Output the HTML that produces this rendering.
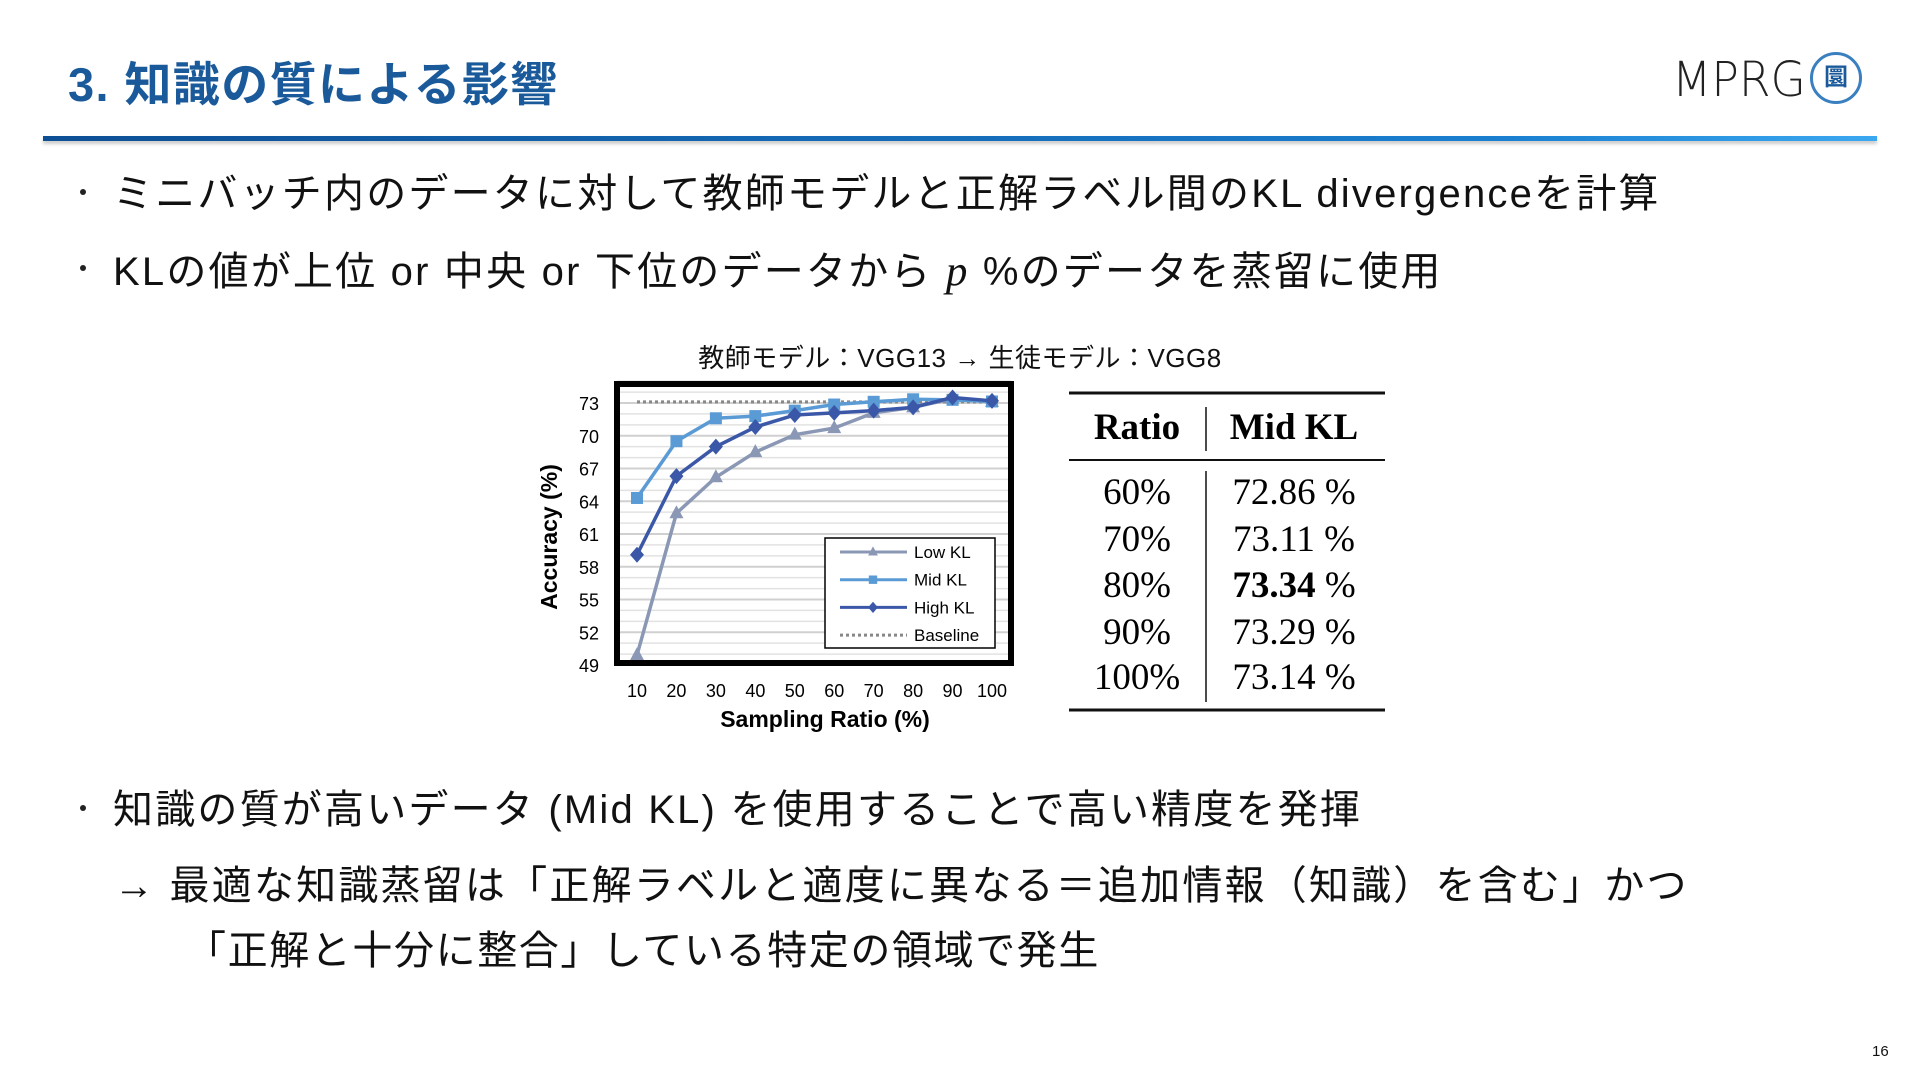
<!DOCTYPE html>
<html><head><meta charset="utf-8"><style>
body{margin:0;width:1920px;height:1080px;background:#fff;position:relative;overflow:hidden;font-family:"Liberation Sans","Noto Sans CJK JP",sans-serif;color:#111}
.abs{position:absolute;white-space:nowrap}
.b{font-size:40px;line-height:1;letter-spacing:2.2px}
.dot{position:absolute;left:-33px;top:15px;width:6px;height:6px;border-radius:50%;background:#222}
</style></head><body>
<div class="abs" style="left:68px;top:46px;font-size:47px;font-weight:bold;color:#1a5a9a;letter-spacing:1.4px">3. 知識の質による影響</div>
<div class="abs" style="left:43px;top:136px;width:1834px;height:5px;background:linear-gradient(90deg,#0d4f95,#1a7fd0 80%,#3aa8f0);box-shadow:0 3px 3px #ccc"></div>
<div class="abs" style="left:1672px;top:52px;font-size:48px;font-weight:100;color:#222;font-family:'DejaVu Sans',sans-serif;transform:scaleX(0.95);transform-origin:left">MPRG</div>
<div class="abs" style="left:1810px;top:52px;width:52px;height:52px;border-radius:50%;border:3px solid #3a7fc0;box-sizing:border-box;text-align:center;line-height:46px;color:#1a5a9a;font-size:24px;font-weight:bold">圜</div>

<div class="abs b" style="left:113px;top:174px"><span class="dot"></span>ミニバッチ内のデータに対して教師モデルと正解ラベル間のKL divergenceを計算</div>
<div class="abs b" style="left:113px;top:250px"><span class="dot"></span>KLの値が上位 or 中央 or 下位のデータから <i style="font-family:'Liberation Serif',serif;font-size:43px">p</i> %のデータを蒸留に使用</div>

<div class="abs" style="left:960px;top:338px;transform:translateX(-50%);font-size:26px;letter-spacing:0.5px">教師モデル：VGG13 → 生徒モデル：VGG8</div>

<svg class="abs" style="left:0;top:0" width="1920" height="1080">
<g id="grid"></g><g id="marks"></g><g id="axes"></g>
</svg>

<svg class="abs" style="left:0;top:0" width="1920" height="1080" font-family="Liberation Serif,serif" font-size="37">
<line x1="1069" y1="393" x2="1385" y2="393" stroke="#111" stroke-width="3"/>
<line x1="1069" y1="460" x2="1385" y2="460" stroke="#111" stroke-width="2"/>
<line x1="1069" y1="710" x2="1385" y2="710" stroke="#111" stroke-width="3"/>
<line x1="1206" y1="407" x2="1206" y2="451" stroke="#111" stroke-width="1.5"/>
<line x1="1206" y1="471" x2="1206" y2="702" stroke="#111" stroke-width="1.5"/>
<text x="1137" y="439" text-anchor="middle" font-weight="bold">Ratio</text>
<text x="1294" y="439" text-anchor="middle" font-weight="bold">Mid KL</text>
<g text-anchor="middle">
<text x="1137" y="504">60%</text><text x="1294" y="504">72.86 %</text>
<text x="1137" y="551">70%</text><text x="1294" y="551">73.11 %</text>
<text x="1137" y="597">80%</text><text x="1294" y="597"><tspan font-weight="bold">73.34</tspan> %</text>
<text x="1137" y="644">90%</text><text x="1294" y="644">73.29 %</text>
<text x="1137" y="689">100%</text><text x="1294" y="689">73.14 %</text>
</g>
</svg>

<div class="abs b" style="left:113px;top:790px"><span class="dot"></span>知識の質が高いデータ (Mid KL) を使用することで高い精度を発揮</div>
<div class="abs b" style="left:114px;top:866px">→ 最適な知識蒸留は「正解ラベルと適度に異なる＝追加情報（知識）を含む」かつ</div>
<div class="abs b" style="left:186px;top:931px;letter-spacing:1.6px">「正解と十分に整合」している特定の領域で発生</div>
<div class="abs" style="left:1872px;top:1043px;font-size:15px">16</div>

<script>
const categories=[10,20,30,40,50,60,70,80,90,100];
const lowKL=[49.9,62.9,66.2,68.5,70.1,70.7,72.1,72.6,73.4,73.1];
const midKL=[64.3,69.5,71.6,71.8,72.3,72.86,73.11,73.34,73.29,73.14];
const highKL=[59.1,66.3,69.0,70.8,71.9,72.1,72.3,72.6,73.5,73.2];
const baseline=[73.1];
const yTicks=[49,52,55,58,61,64,67,70,73];
const NS="http://www.w3.org/2000/svg";
const X0=637,X1=992,Y0=665,Y1=403;
const xs=v=>X0+(v-10)/90*(X1-X0);
const ys=v=>Y0-(v-49)/24*(Y0-Y1);
function mk(t,a,p){const e=document.createElementNS(NS,t);for(const k in a)e.setAttribute(k,a[k]);(p||document.getElementById('marks')).appendChild(e);return e;}
const grid=document.getElementById('grid'),axes=document.getElementById('axes');
for(let v=49;v<=75;v++){const g=mk('line',{x1:617,x2:1011,y1:ys(v),y2:ys(v),stroke:yTicks.includes(v)?'#d0d0d0':'#e2e2e2','stroke-width':yTicks.includes(v)?2:1.5},grid);

}
const fr=mk('rect',{x:617,y:384,width:394,height:279,fill:'none',stroke:'#000','stroke-width':6},axes);


yTicks.forEach(v=>{const t=mk('text',{x:599,y:ys(v)+7,'text-anchor':'end','font-size':18},axes);t.textContent=v;

});
categories.forEach(c=>{const t=mk('text',{x:xs(c),y:697,'text-anchor':'middle','font-size':18},axes);t.textContent=c;

});
const xt=mk('text',{x:825,y:727,'text-anchor':'middle','font-size':23,'font-weight':'bold'},axes);xt.textContent='Sampling Ratio (%)';


const yt=mk('text',{x:557,y:537,'text-anchor':'middle','font-size':23,'font-weight':'bold',transform:'rotate(-90 557 537)'},axes);yt.textContent='Accuracy (%)';


const bl=mk('line',{x1:xs(10),x2:xs(100),y1:ys(baseline[0]),y2:ys(baseline[0]),stroke:'#888','stroke-width':3,'stroke-dasharray':'3 3'});


function marker(shape,x,y,col,p){
 if(shape==='tri')return mk('polygon',{points:`${x},${y-8} ${x-7},${y+5} ${x+7},${y+5}`,fill:col},p);
 if(shape==='sq')return mk('rect',{x:x-6,y:y-6,width:12,height:12,fill:col},p);
 return mk('polygon',{points:`${x},${y-8} ${x+7},${y} ${x},${y+8} ${x-7},${y}`,fill:col},p);}
const series=[[lowKL,'#8b98b5','tri','low-kl'],[midKL,'#5b9bd5','sq','mid-kl'],[highKL,'#3b58a8','dia','high-kl']];
series.forEach(([d,col,sh,nm])=>{
 const l=mk('polyline',{points:d.map((v,i)=>xs(categories[i])+','+ys(v)).join(' '),fill:'none',stroke:col,'stroke-width':3.5});
 
 
 d.forEach((v,i)=>{const m=marker(sh,xs(categories[i]),ys(v),col);
 
 });
});
const lg=mk('rect',{x:825,y:538,width:170,height:110,fill:'#fff',stroke:'#000','stroke-width':1.5},axes);


const names=['Low KL','Mid KL','High KL','Baseline'];
const lcols=['#8b98b5','#5b9bd5','#3b58a8','#888'];const shapes=['tri','sq','dia',null];
names.forEach((n,i)=>{const y=552+i*27.7;
 const ln=mk('line',{x1:840,x2:907,y1:y,y2:y,stroke:lcols[i],'stroke-width':3,'stroke-dasharray':i===3?'3 3':'none'},axes);
 
 
 if(shapes[i]){const m=marker(shapes[i],873,y,lcols[i],axes);m.setAttribute('transform',`translate(${873*0.3},${y*0.3}) scale(0.7)`);}
 const t=mk('text',{x:914,y:y+6,'font-size':17},axes);t.textContent=n;
 
 
});
</script>
</body></html>
